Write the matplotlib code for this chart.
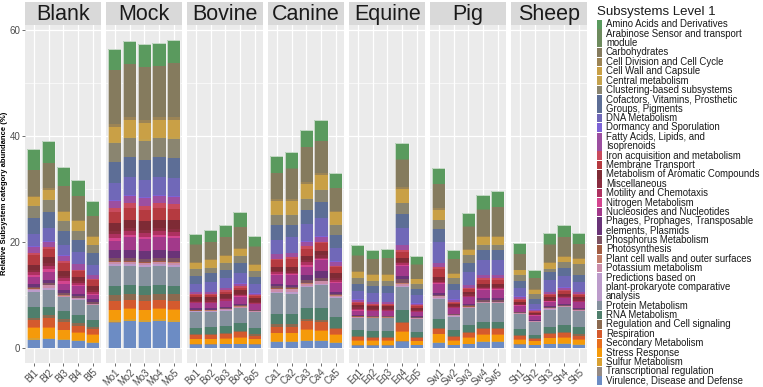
import matplotlib
matplotlib.use("Agg")
import matplotlib.pyplot as plt
from matplotlib.patches import Rectangle
import numpy as np

plt.rcParams['font.family'] = ['Liberation Sans', 'DejaVu Sans']

categories = [
    "Amino Acids and Derivatives", "Arabinose Sensor and transport module", "Carbohydrates",
    "Cell Division and Cell Cycle", "Cell Wall and Capsule", "Central metabolism",
    "Clustering-based subsystems", "Cofactors, Vitamins, Prosthetic Groups, Pigments",
    "DNA Metabolism", "Dormancy and Sporulation", "Fatty Acids, Lipids, and Isoprenoids",
    "Iron acquisition and metabolism", "Membrane Transport", "Metabolism of Aromatic Compounds",
    "Miscellaneous", "Motility and Chemotaxis", "Nitrogen Metabolism", "Nucleosides and Nucleotides",
    "Phages, Prophages, Transposable elements, Plasmids", "Phosphorus Metabolism", "Photosynthesis",
    "Plant cell walls and outer surfaces", "Potassium metabolism",
    "Predictions based on plant-prokaryote comparative analysis", "Protein Metabolism",
    "RNA Metabolism", "Regulation and Cell signaling", "Respiration", "Secondary Metabolism",
    "Stress Response", "Sulfur Metabolism", "Transcriptional regulation",
    "Virulence, Disease and Defense",
]

legend_labels = [
    "Amino Acids and Derivatives", "Arabinose Sensor and transport\nmodule", "Carbohydrates",
    "Cell Division and Cell Cycle", "Cell Wall and Capsule", "Central metabolism",
    "Clustering-based subsystems", "Cofactors, Vitamins, Prosthetic\nGroups, Pigments",
    "DNA Metabolism", "Dormancy and Sporulation", "Fatty Acids, Lipids, and\nIsoprenoids",
    "Iron acquisition and metabolism", "Membrane Transport", "Metabolism of Aromatic Compounds",
    "Miscellaneous", "Motility and Chemotaxis", "Nitrogen Metabolism", "Nucleosides and Nucleotides",
    "Phages, Prophages, Transposable\nelements, Plasmids", "Phosphorus Metabolism", "Photosynthesis",
    "Plant cell walls and outer surfaces", "Potassium metabolism",
    "Predictions based on\nplant-prokaryote comparative\nanalysis", "Protein Metabolism",
    "RNA Metabolism", "Regulation and Cell signaling", "Respiration", "Secondary Metabolism",
    "Stress Response", "Sulfur Metabolism", "Transcriptional regulation",
    "Virulence, Disease and Defense",
]

colors = [
    "#5A9A5E", "#6E8B5E", "#857B5E", "#9C8455", "#C9A046", "#C4A24E", "#8A8570",
    "#5D6E96", "#7068B8", "#7D63D6", "#9C4FA0", "#C94B5E", "#B53A40", "#7E2B35",
    "#8A2D40", "#AE3160", "#D4458F", "#A2398A", "#6A3478", "#7D5262", "#A25D44",
    "#C27E6A", "#CA8DAA", "#BC9CCB", "#85919E", "#4F7F6C", "#8B6A50", "#D45A2E",
    "#E8701E", "#F59A0A", "#D9A132", "#958A83", "#6C8CC4",
]

groups = ["Blank", "Mock", "Bovine", "Canine", "Equine", "Pig", "Sheep"]

sample_labels = [
    ["Bl1", "Bl2", "Bl3", "Bl4", "Bl5"],
    ["Mo1", "Mo2", "Mo3", "Mo4", "Mo5"],
    ["Bo1", "Bo2", "Bo3", "Bo4", "Bo5"],
    ["Ca1", "Ca2", "Ca3", "Ca4", "Ca5"],
    ["Eq1", "Eq2", "Eq3", "Eq4", "Eq5"],
    ["Sw1", "Sw2", "Sw3", "Sw4", "Sw5"],
    ["Sh1", "Sh2", "Sh3", "Sh4", "Sh5"],
]

# Each row: one sample, values per category in the order of `categories`
blank = [
    [3.9,0.05,4.8,0.3,1.5,0.15,2.3,2.9,2.4,0.1,1.2,0.4,1.8,0.9,0.4,0.5,0.4,1.4,0.5,0.3,0.05,0.05,0.3,0.2,3.0,1.9,0.5,1.3,0.1,2.0,0.25,0.05,1.6],
    [4.1,0.05,4.8,0.3,1.8,0.15,2.2,3.1,2.4,0.1,1.0,0.3,1.6,1.2,0.5,0.5,0.6,1.6,0.4,0.4,0.05,0.05,0.6,0.4,3.1,1.6,0.5,1.7,0.1,1.9,0.25,0.05,1.7],
    [3.6,0.05,4.6,0.3,1.5,0.15,1.9,2.7,1.9,0.1,1.0,0.3,1.6,0.9,0.4,0.6,0.4,1.3,0.5,0.4,0.05,0.05,0.15,0.15,2.6,1.5,0.5,1.5,0.1,1.6,0.25,0.05,1.5],
    [3.1,0.05,4.4,0.3,1.7,0.15,1.7,2.2,2.3,0.1,1.0,0.3,1.0,0.8,0.4,0.4,0.2,1.4,0.4,0.4,0.05,0.05,0.15,0.15,2.9,1.4,0.6,1.2,0.1,1.4,0.15,0.05,1.3],
    [2.8,0.05,3.6,0.25,1.45,0.15,1.5,2.2,1.8,0.1,0.8,0.2,1.0,0.8,0.4,0.3,0.2,0.9,0.4,0.4,0.05,0.05,0.1,0.1,2.8,1.3,0.4,1.0,0.1,1.3,0.15,0.05,1.0],
]
mock = [
    [4.0,0.05,10.2,0.6,2.8,0.2,3.6,3.8,3.3,0.15,1.3,0.9,2.0,1.5,0.5,0.9,0.4,1.8,1.4,0.7,0.05,0.1,0.4,0.35,3.7,1.8,1.1,1.6,0.1,1.9,0.4,0.1,4.8],
    [4.4,0.05,9.9,0.6,3.2,0.25,3.6,3.8,3.35,0.15,1.4,0.9,2.2,1.6,0.5,0.8,0.4,2.4,1.4,0.7,0.05,0.1,0.4,0.35,3.6,1.6,1.2,1.6,0.1,1.8,0.4,0.1,5.1],
    [4.3,0.05,9.95,0.6,3.0,0.25,3.6,3.8,3.3,0.15,1.4,0.9,2.1,1.6,0.5,0.8,0.4,2.3,1.4,0.7,0.05,0.1,0.4,0.35,3.6,1.6,1.2,1.6,0.1,1.8,0.4,0.1,4.9],
    [4.4,0.05,9.5,0.6,3.2,0.25,3.6,3.8,3.35,0.15,1.4,0.9,2.2,1.6,0.5,0.8,0.4,2.4,1.4,0.7,0.05,0.1,0.4,0.35,3.6,1.6,1.2,1.6,0.1,1.8,0.4,0.1,5.1],
    [4.4,0.05,10.2,0.6,3.2,0.25,3.6,3.8,3.35,0.15,1.4,0.9,2.2,1.6,0.5,0.8,0.4,2.4,1.4,0.7,0.05,0.1,0.4,0.35,3.6,1.6,1.2,1.6,0.1,1.9,0.4,0.1,4.9],
]
bovine = [
    [2.0,0.05,3.3,0.2,1.0,0.15,1.3,1.4,1.5,0.1,0.4,0.2,0.4,0.6,0.3,0.15,0.1,0.95,0.2,0.15,0.05,0.05,0.1,0.1,2.95,1.2,0.2,0.7,0.1,0.8,0.15,0.05,0.7],
    [2.2,0.05,3.3,0.2,1.2,0.15,1.1,1.6,1.8,0.1,0.4,0.2,0.4,0.5,0.3,0.2,0.1,1.0,0.2,0.1,0.05,0.05,0.1,0.1,2.9,1.3,0.2,0.7,0.1,0.8,0.15,0.05,0.7],
    [2.2,0.05,3.4,0.2,1.1,0.15,1.3,1.5,1.9,0.1,0.4,0.2,0.5,0.7,0.3,0.2,0.1,1.1,0.2,0.15,0.05,0.05,0.15,0.1,2.9,1.3,0.2,0.8,0.1,0.9,0.1,0.05,0.75],
    [2.8,0.05,4.0,0.2,1.1,0.15,1.4,1.9,1.8,0.1,0.5,0.3,0.5,0.6,0.3,0.2,0.1,1.4,0.2,0.15,0.05,0.05,0.2,0.15,2.8,1.4,0.3,0.9,0.1,1.1,0.1,0.05,0.75],
    [2.0,0.05,3.2,0.2,1.1,0.15,1.0,1.4,1.7,0.1,0.3,0.2,0.4,0.6,0.3,0.1,0.1,1.0,0.15,0.1,0.05,0.05,0.1,0.05,3.0,1.2,0.2,0.6,0.1,0.8,0.15,0.05,0.7],
]
canine = [
    [3.2,0.05,4.9,0.3,2.5,0.15,1.9,2.7,2.7,0.1,0.8,0.3,1.3,0.7,0.3,0.3,0.2,1.6,0.5,0.4,0.05,0.05,0.5,0.3,3.9,2.0,0.4,1.2,0.1,1.4,0.15,0.05,1.2],
    [3.1,0.05,5.8,0.3,2.5,0.15,1.9,2.2,3.0,0.1,0.7,0.3,1.6,0.8,0.3,0.2,0.2,1.8,0.4,0.3,0.05,0.05,0.6,0.4,3.8,1.9,0.4,1.2,0.1,1.4,0.15,0.05,1.2],
    [3.2,0.05,6.5,0.3,2.7,0.15,2.2,2.6,3.2,0.1,0.9,0.4,1.4,0.8,0.4,0.5,0.3,1.6,1.0,0.5,0.05,0.05,0.4,0.2,4.1,1.9,0.4,1.6,0.1,1.9,0.15,0.05,1.4],
    [4.0,0.05,6.0,0.3,2.8,0.15,2.2,3.1,3.4,0.1,0.9,0.3,1.4,0.9,0.4,0.3,0.2,2.1,1.2,0.6,0.05,0.05,0.5,0.2,4.4,2.2,0.3,1.6,0.1,1.8,0.1,0.05,1.35],
    [2.7,0.05,4.3,0.3,2.3,0.15,1.9,2.4,2.5,0.1,0.7,0.3,1.2,0.9,0.4,0.3,0.2,1.7,0.3,0.3,0.05,0.05,0.3,0.2,3.5,2.0,0.3,1.0,0.1,1.3,0.15,0.05,1.0],
]
equine = [
    [1.9,0.05,2.9,0.15,1.05,0.15,1.1,1.3,1.6,0.1,0.4,0.2,0.3,0.5,0.3,0.2,0.1,0.9,0.1,0.1,0.05,0.05,0.1,0.05,2.35,1.1,0.2,0.6,0.1,0.75,0.1,0.05,0.5],
    [1.7,0.05,2.8,0.15,1.05,0.15,1.0,1.3,1.6,0.1,0.3,0.2,0.3,0.5,0.2,0.1,0.1,0.9,0.1,0.1,0.05,0.05,0.1,0.05,2.45,1.0,0.2,0.5,0.1,0.75,0.1,0.05,0.5],
    [1.7,0.05,3.0,0.15,1.05,0.15,1.0,1.3,1.6,0.1,0.3,0.2,0.3,0.5,0.2,0.1,0.1,0.9,0.1,0.1,0.05,0.05,0.1,0.05,2.45,1.0,0.2,0.5,0.1,0.75,0.1,0.05,0.5],
    [3.1,0.05,5.2,0.3,2.6,0.15,1.9,2.8,3.1,0.1,0.9,0.3,1.1,0.8,0.3,0.3,0.1,2.0,0.6,0.7,0.05,0.05,0.4,0.2,4.4,2.2,0.2,1.6,0.1,1.7,0.1,0.05,1.25],
    [1.6,0.05,2.6,0.15,0.75,0.15,1.0,1.1,1.5,0.1,0.3,0.2,0.3,0.4,0.2,0.1,0.1,0.8,0.1,0.1,0.05,0.05,0.1,0.05,2.45,1.0,0.15,0.55,0.1,0.6,0.05,0.05,0.6],
]
pig = [
    [3.0,0.05,4.6,0.3,1.8,0.15,1.6,2.5,3.9,0.1,0.7,0.3,1.5,0.7,0.3,0.2,0.1,1.7,0.4,0.2,0.05,0.05,0.4,0.2,3.6,1.7,0.2,1.0,0.1,1.4,0.15,0.05,1.0],
    [1.6,0.05,2.65,0.15,0.75,0.1,1.0,1.3,1.7,0.1,0.3,0.2,0.3,0.4,0.2,0.1,0.1,1.0,0.1,0.1,0.05,0.05,0.2,0.1,2.5,1.1,0.15,0.6,0.1,0.75,0.05,0.05,0.6],
    [2.5,0.05,4.2,0.2,0.9,0.15,1.5,1.6,2.4,0.1,0.5,0.2,0.5,0.5,0.3,0.2,0.1,1.2,0.3,0.2,0.05,0.05,0.2,0.1,3.2,1.2,0.2,0.8,0.1,1.1,0.05,0.05,0.8],
    [2.7,0.05,4.95,0.2,1.3,0.15,1.05,1.9,2.7,0.1,0.6,0.3,0.7,0.6,0.3,0.2,0.1,1.6,0.3,0.3,0.05,0.05,0.1,0.1,3.5,1.2,0.2,1.0,0.1,1.2,0.15,0.05,1.1],
    [2.9,0.05,5.45,0.2,1.3,0.15,1.05,1.9,2.7,0.1,0.6,0.3,0.7,0.6,0.3,0.2,0.1,1.6,0.3,0.3,0.05,0.05,0.1,0.1,3.5,1.2,0.2,1.0,0.1,1.2,0.15,0.05,1.1],
]
sheep = [
    [2.0,0.05,2.9,0.15,0.75,0.15,1.2,1.3,1.5,0.1,0.4,0.2,0.3,0.4,0.2,0.1,0.1,1.1,0.1,0.1,0.05,0.05,0.1,0.05,2.85,1.1,0.15,0.6,0.1,0.8,0.1,0.05,0.7],
    [1.4,0.05,2.1,0.1,0.75,0.1,0.9,0.9,1.0,0.1,0.3,0.1,0.2,0.3,0.1,0.1,0.1,0.8,0.1,0.05,0.05,0.05,0.05,0.05,2.45,0.6,0.1,0.45,0.05,0.6,0.05,0.05,0.6],
    [2.1,0.05,3.35,0.15,0.9,0.15,0.6,1.6,2.1,0.1,0.4,0.2,0.3,0.5,0.2,0.1,0.1,0.9,0.2,0.1,0.05,0.05,0.1,0.1,3.3,1.2,0.2,0.6,0.1,1.0,0.1,0.05,0.75],
    [2.2,0.05,3.6,0.15,0.85,0.15,1.0,1.6,2.1,0.1,0.4,0.2,0.5,0.5,0.2,0.1,0.1,1.1,0.2,0.1,0.05,0.05,0.1,0.1,3.4,1.2,0.2,0.8,0.1,1.0,0.1,0.05,0.85],
    [2.1,0.05,2.65,0.1,0.95,0.15,2.0,1.3,1.8,0.1,0.4,0.2,0.3,0.5,0.3,0.1,0.1,1.2,0.1,0.1,0.05,0.05,0.1,0.1,3.0,1.4,0.2,0.7,0.1,0.8,0.1,0.05,0.65],
]
group_values = [blank, mock, bovine, canine, equine, pig, sheep]

y_ticks = [0, 20, 40, 60]
y_label = "Relative Subsystem category abundance (%)"
legend_title = "Subsystems Level 1"

# ---------------- layout ----------------
W, H = 763, 387
fig = plt.figure(figsize=(W / 100, H / 100), dpi=100)
fig.patch.set_facecolor("white")

panel_left0 = 25.0
panel_w = 76.4
panel_gap = 4.6
panel_top = 25.0
panel_bottom = 362.5
strip_top = 1.5
ymin, ymax = -2.68, 60.94

grid_c = "white"
bg_c = "#EBEBEB"
strip_c = "#D9D9D9"
tick_c = "#4D4D4D"

for gi, (gname, vals) in enumerate(zip(groups, group_values)):
    left = panel_left0 + gi * (panel_w + panel_gap)
    ax = fig.add_axes([left / W, 1 - panel_bottom / H, panel_w / W, (panel_bottom - panel_top) / H])
    ax.set_facecolor(bg_c)
    arr = np.array(vals)  # samples x categories
    x = np.arange(1, arr.shape[0] + 1)
    ax.set_xlim(0.4, arr.shape[0] + 0.6)
    ax.set_ylim(ymin, ymax)
    for yv in [10, 30, 50]:
        ax.axhline(yv, color=grid_c, lw=0.45, zorder=0.5)
    for yv in y_ticks:
        ax.axhline(yv, color=grid_c, lw=0.9, zorder=0.6)
    for xv in x:
        ax.axvline(xv, color=grid_c, lw=0.9, zorder=0.6)
    bottom = np.zeros(arr.shape[0])
    for ci in range(arr.shape[1] - 1, -1, -1):
        ax.bar(x, arr[:, ci], bottom=bottom, width=0.9, color=colors[ci],
               edgecolor="none", linewidth=0, zorder=2)
        bottom = bottom + arr[:, ci]
    # bar outlines
    ax.bar(x, bottom, width=0.9, fill=False, edgecolor="#F4F4F4", linewidth=0.6, alpha=0.8, zorder=3)
    for s in ax.spines.values():
        s.set_visible(False)
    ax.set_xticks(x)
    ax.set_xticklabels(sample_labels[gi], rotation=45, ha="right", va="top",
                       rotation_mode="anchor", fontsize=6.9, color=tick_c)
    ax.tick_params(axis="x", length=2.5, color="#333333", width=0.5, pad=0.8)
    ax.set_yticks(y_ticks)
    if gi == 0:
        ax.set_yticklabels([str(v) for v in y_ticks], fontsize=7, color=tick_c)
        ax.tick_params(axis="y", length=2.5, color="#333333", width=0.5, pad=1.0)
    else:
        ax.tick_params(axis="y", length=0, labelleft=False)
    # strip
    sax = fig.add_axes([left / W, 1 - panel_top / H, panel_w / W, (panel_top - strip_top) / H])
    sax.set_facecolor(strip_c)
    sax.set_xticks([]); sax.set_yticks([])
    for s in sax.spines.values():
        s.set_visible(False)
    sax.text(0.5, 0.45, gname, ha="center", va="center", fontsize=15.5, color="#1A1A1A",
             transform=sax.transAxes)

# ---------------- legend and y label ----------------
lax = fig.add_axes([0, 0, 1, 1])
lax.set_xlim(0, W)
lax.set_ylim(H, 0)
lax.axis("off")
lax.text(4.6, (panel_top + panel_bottom) / 2, y_label, rotation=90, fontsize=5.5, fontweight="bold",
         ha="center", va="center", color="black")
lax.text(597, 11.5, legend_title, fontsize=9.5, ha="left", va="center", color="#1A1A1A")
line_h = 9.38
y0 = 24.3
line_idx = 0
for lab, col in zip(legend_labels, colors):
    lines = lab.split("\n")
    n = len(lines)
    top = y0 + line_idx * line_h - line_h / 2
    lax.add_patch(Rectangle((597, top + 0.4), 5.2, n * line_h - 0.8, facecolor=col, edgecolor="none"))
    for k, ln in enumerate(lines):
        lax.text(606, y0 + (line_idx + k) * line_h, ln, fontsize=6.9, ha="left", va="center",
                 color="#1A1A1A")
    line_idx += n

fig.savefig("out.png", dpi=100)
